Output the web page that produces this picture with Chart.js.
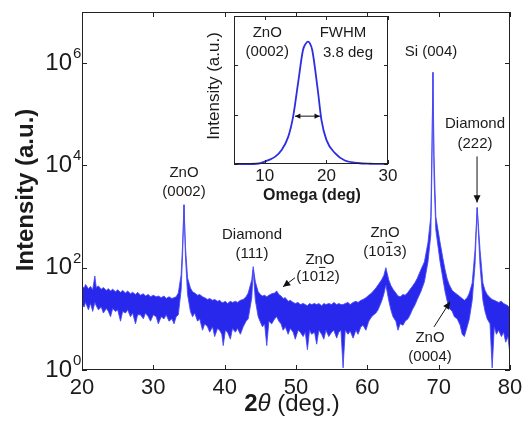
<!DOCTYPE html>
<html><head><meta charset="utf-8">
<script src="https://cdn.jsdelivr.net/npm/chart.js@4"></script>
<style>
html,body{margin:0;padding:0;background:#fff;}
#wrap{position:relative;width:523px;height:422px;}
canvas{position:absolute;left:0;top:0;}
</style>
</head><body>
<div id="wrap"><canvas id="main" width="523" height="422"></canvas><canvas id="inset" width="523" height="422"></canvas></div>
<script>
// ---- main XRD scan (2theta, upper and lower edges of the noisy trace) ----
const twoTheta = [20.0,20.3,20.5,20.9,21.2,21.5,21.8,22.0,22.3,22.7,23.0,23.4,23.7,24.0,24.3,24.7,25.0,25.4,25.7,26.1,26.4,26.8,27.1,27.5,27.8,28.2,28.6,28.9,29.3,29.6,30.0,30.4,30.7,31.1,31.5,31.8,32.2,32.6,32.9,33.2,33.5,33.9,34.1,34.3,34.5,34.8,35.2,35.5,35.8,36.2,36.5,36.9,37.2,37.6,37.9,38.3,38.6,39.0,39.3,39.6,39.8,40.1,40.4,40.8,41.1,41.5,41.8,42.2,42.6,43.0,43.3,43.8,44.0,44.3,44.7,45.0,45.3,45.6,45.9,46.2,46.6,47.0,47.3,47.6,47.9,48.2,48.5,48.9,49.2,49.6,49.9,50.3,50.6,51.0,51.3,51.6,51.9,52.2,52.6,52.9,53.2,53.6,53.9,54.2,54.6,55.0,55.3,55.7,56.0,56.3,56.6,56.9,57.3,57.6,58.0,58.4,58.7,59.1,59.4,59.8,60.2,60.6,60.9,61.2,61.5,62.0,62.3,62.6,63.0,63.3,63.6,64.0,64.3,64.6,65.0,65.3,65.7,66.0,66.3,66.7,67.0,67.5,68.0,68.5,68.9,69.05,69.2,69.35,69.6,70.2,70.6,70.9,71.2,71.5,71.9,72.2,72.6,73.0,73.3,73.6,74.0,74.3,74.7,75.1,75.4,75.8,76.2,76.5,76.8,77.2,77.5,77.8,78.1,78.4,78.8,79.1,79.4,79.7,80.0];
const upperEnv = [44,40,47,39,43,37,69,41,44,38,41,36,39,35,38,34,37,33,36,32,35,31,33,30,33,29,31,28,30,27,29,27,28,26,28,25,27,25,26,27,32,73,280,1700,260,63,40,34,32,29,30,27,26,24,25,23,24,22,23,21,21,22,20,22,21,22,21,23,24,27,32,58,105,53,34,30,28,29,27,29,31,32,35,30,28,25,26,22,23,21,20,21,19,20,19,18,20,19,20,19,20,18,20,19,20,19,21,19,20,19,19,20,21,19,21,22,21,23,24,26,29,32,36,40,46,58,70,100,58,45,38,32,28,27,30,29,33,38,43,52,62,91,130,310,1000,20000,660000,15000,1000,310,150,91,60,46,36,33,30,27,25,23,26,32,50,225,1500,225,50,36,30,26,24,23,22,21,22,20,19,18,16];
const lowerEnv = [19,17,21,15,20,14,21,18,15,17,13,16,14,11,16,14,15,9,14,13,15,11,13,8,12,12,10,13,11,9,12,11,8,11,10,12,9,10,8,11,12,37,180,1700,170,30,14,11,13,9,10,6,8,7,5.5,7,4.5,6.5,6,5,3,6,5.5,4,6.5,5.5,6.5,5,7,9,10,26,90,23,11,8.7,7,8,3,9,8,10,11,9,8,6,7,5,6.5,5.5,4,6,5.5,4.5,5.5,2.5,6,5,5.5,3.2,6,5,4,6,4.5,5.5,6,4.2,5.5,6,1.1,6,5,5.8,4.2,6,5,7,7.5,6,9,11,12,13,15,22,30,46,23,15,11,9,6,8,7.5,9,10,12,15,19,24,34,53,130,440,8000,660000,6000,550,130,60,34,22,16,14,11,10,7.6,5,4.5,7,10,23,115,1500,110,23,14,10,8,1.1,7,5,6,4.5,5.5,3.5,4.5,2];
const mainXTicks = [20,30,40,50,60,70,80];
const mainYExponents = [0,2,4,6];

// ---- inset rocking curve ----
const omega    = [5,7,9,10,11,11.7,12.7,13.8,14.6,15.4,16.2,16.6,17.0,17.3,17.7,18.6,19.2,20.0,21.4,23.0,25.1,27,30];
const omegaInt = [0,0,0.01,0.05,0.1,0.15,0.28,0.55,0.96,1.64,2.31,2.43,2.48,2.45,2.31,1.50,0.89,0.49,0.22,0.07,0.02,0.005,0];
const insetXTicks = [10,20,30];
const insetYTicks = [0,1,2,3];

// ---- annotations (data coordinates; y given as log10) ----
const peakLabels = [
  {t:'ZnO', x:34.3, ly:3.86}, {t:'(0002)', x:34.3, ly:3.49},
  {t:'Diamond', x:43.83, ly:2.647}, {t:'(111)', x:43.83, ly:2.275},
  {t:'ZnO', x:53.37, ly:2.157}, {t:'(1012)', x:53.08, ly:1.824, bar:3},
  {t:'ZnO', x:62.48, ly:2.686}, {t:'(1013)', x:62.48, ly:2.314, bar:3},
  {t:'Si (004)', x:68.93, ly:6.216},
  {t:'Diamond', x:75.09, ly:4.804}, {t:'(222)', x:75.09, ly:4.412},
  {t:'ZnO', x:68.79, ly:0.627}, {t:'(0004)', x:68.79, ly:0.255}
];
const peakArrows = [
  {x1:49.86, l1:1.804, x2:48.18, l2:1.627},
  {x1:75.38, l1:4.176, x2:75.38, l2:3.275},
  {x1:69.35, l1:0.843, x2:71.59, l2:1.333}
];
const insetLabels = [
  {t:'ZnO', x:10.4, y:2.66}, {t:'(0002)', x:10.4, y:2.27},
  {t:'FWHM', x:22.7, y:2.66}, {t:'3.8 deg', x:23.5, y:2.25}
];
const fwhmArrow = {x1:14.9, x2:18.95, y:0.97};

const FONT = '"Liberation Sans", Arial, Helvetica, sans-serif';
const TXT = '#1b1b1b';

function arrow(ctx, x1, y1, x2, y2, head, both) {
  ctx.beginPath(); ctx.moveTo(x1, y1); ctx.lineTo(x2, y2); ctx.stroke();
  const ang = Math.atan2(y2 - y1, x2 - x1);
  const tip = (x, y, a) => {
    ctx.beginPath();
    ctx.moveTo(x, y);
    ctx.lineTo(x - head * Math.cos(a - 0.45), y - head * Math.sin(a - 0.45));
    ctx.lineTo(x - head * Math.cos(a + 0.45), y - head * Math.sin(a + 0.45));
    ctx.closePath(); ctx.fill();
  };
  tip(x2, y2, ang);
  if (both) tip(x1, y1, ang + Math.PI);
}
function barText(ctx, s, idx, cx, cy, size) {
  ctx.textAlign = 'left';
  const w = ctx.measureText(s).width;
  const x0 = cx - w / 2;
  ctx.fillText(s, x0, cy);
  if (idx !== undefined) {
    const pre = ctx.measureText(s.slice(0, idx)).width;
    const cw = ctx.measureText(s[idx]).width;
    ctx.beginPath();
    ctx.lineWidth = 1;
    ctx.moveTo(x0 + pre + 1, cy - size * 0.62);
    ctx.lineTo(x0 + pre + cw - 1, cy - size * 0.62);
    ctx.stroke();
  }
}

const mainDecor = {
  id: 'mainDecor',
  afterDraw(chart) {
    const ctx = chart.ctx, a = chart.chartArea, xs = chart.scales.x, ys = chart.scales.y;
    ctx.save();
    ctx.strokeStyle = '#222'; ctx.lineWidth = 1;
    ctx.strokeRect(a.left + 0.5, a.top + 0.5, a.right - a.left - 1, a.bottom - a.top - 1);
    ctx.beginPath();
    mainXTicks.forEach(v => {
      const px = Math.round(xs.getPixelForValue(v)) + 0.5;
      ctx.moveTo(px, a.bottom); ctx.lineTo(px, a.bottom - 5);
      ctx.moveTo(px, a.top); ctx.lineTo(px, a.top + 5);
    });
    mainYExponents.forEach(e => {
      const py = Math.round(ys.getPixelForValue(Math.pow(10, e))) + 0.5;
      ctx.moveTo(a.left, py); ctx.lineTo(a.left + 5, py);
      ctx.moveTo(a.right, py); ctx.lineTo(a.right - 5, py);
    });
    ctx.stroke();
    ctx.fillStyle = TXT;
    // x tick labels
    ctx.font = '22px ' + FONT; ctx.textAlign = 'center'; ctx.textBaseline = 'middle';
    mainXTicks.forEach(v => ctx.fillText(String(v), xs.getPixelForValue(v), a.bottom + 18));
    // y tick labels 10^n
    mainYExponents.forEach(e => {
      const py = ys.getPixelForValue(Math.pow(10, e));
      ctx.font = '24px ' + FONT; ctx.textAlign = 'right'; ctx.textBaseline = 'middle';
      ctx.fillText('10', a.left - 10, py);
      ctx.font = '15px ' + FONT; ctx.textAlign = 'left'; ctx.textBaseline = 'alphabetic';
      ctx.fillText(String(e), a.left - 9, py - 5);
    });
    // y title
    ctx.save();
    ctx.translate(26, 190); ctx.rotate(-Math.PI / 2);
    ctx.font = 'bold 24px ' + FONT; ctx.textAlign = 'center'; ctx.textBaseline = 'middle';
    ctx.fillText('Intensity (a.u.)', 0, 0);
    ctx.restore();
    // x title: bold 2, italic theta, regular rest
    ctx.textBaseline = 'middle'; ctx.textAlign = 'left';
    const parts = [['2', 'bold 24px '], ['\u03B8', 'italic 24px '], [' (deg.)', '24px ']];
    let tw = 0;
    parts.forEach(p => { ctx.font = p[1] + FONT; tw += ctx.measureText(p[0]).width; });
    let cx = 292 - tw / 2;
    parts.forEach(p => { ctx.font = p[1] + FONT; ctx.fillText(p[0], cx, 404); cx += ctx.measureText(p[0]).width; });
    // peak labels
    ctx.font = '15px ' + FONT; ctx.textBaseline = 'middle'; ctx.strokeStyle = TXT;
    peakLabels.forEach(l => barText(ctx, l.t, l.bar, xs.getPixelForValue(l.x), ys.getPixelForValue(Math.pow(10, l.ly)), 15));
    ctx.strokeStyle = '#111'; ctx.fillStyle = '#111'; ctx.lineWidth = 1;
    peakArrows.forEach(r => arrow(ctx, xs.getPixelForValue(r.x1), ys.getPixelForValue(Math.pow(10, r.l1)),
      xs.getPixelForValue(r.x2), ys.getPixelForValue(Math.pow(10, r.l2)), 8, false));
    ctx.restore();
  }
};

const lowerPts = twoTheta.map((x, i) => ({x, y: lowerEnv[i]}));
const upperPts = twoTheta.map((x, i) => ({x, y: upperEnv[i]}));

new Chart(document.getElementById('main'), {
  type: 'line',
  data: { datasets: [
    { data: lowerPts, borderColor: 'rgba(70,70,245,0.85)', borderWidth: 1, pointRadius: 0, tension: 0, fill: false },
    { data: upperPts, borderColor: 'rgba(70,70,245,0.85)', borderWidth: 1, pointRadius: 0, tension: 0, fill: '-1', backgroundColor: 'rgba(10,10,235,0.88)' }
  ]},
  options: {
    responsive: false, animation: false, devicePixelRatio: 1,
    layout: { padding: { left: 0, right: 13, top: 12, bottom: 0 } },
    plugins: { legend: { display: false }, tooltip: { enabled: false } },
    scales: {
      x: { type: 'linear', min: 20, max: 80, ticks: { display: false }, grid: { display: false }, border: { display: false },
           afterFit(s) { s.height = 52; } },
      y: { type: 'logarithmic', min: 1, max: 1e7, ticks: { display: false }, grid: { display: false }, border: { display: false },
           afterFit(s) { s.width = 82; } }
    }
  },
  plugins: [mainDecor]
});

const insetDecor = {
  id: 'insetDecor',
  beforeDraw(chart) {
    const ctx = chart.ctx, a = chart.chartArea;
    ctx.save(); ctx.fillStyle = '#fff'; ctx.fillRect(a.left, a.top, a.right - a.left, a.bottom - a.top); ctx.restore();
  },
  afterDraw(chart) {
    const ctx = chart.ctx, a = chart.chartArea, xs = chart.scales.x, ys = chart.scales.y;
    ctx.save();
    ctx.strokeStyle = '#222'; ctx.lineWidth = 1;
    ctx.strokeRect(a.left + 0.5, a.top + 0.5, a.right - a.left - 1, a.bottom - a.top - 1);
    ctx.beginPath();
    insetXTicks.forEach(v => {
      const px = Math.round(xs.getPixelForValue(v)) + 0.5;
      ctx.moveTo(px, a.bottom); ctx.lineTo(px, a.bottom - 4);
      ctx.moveTo(px, a.top); ctx.lineTo(px, a.top + 4);
    });
    insetYTicks.forEach(v => {
      const py = Math.round(ys.getPixelForValue(v)) + 0.5;
      ctx.moveTo(a.left, py); ctx.lineTo(a.left + 4, py);
      ctx.moveTo(a.right, py); ctx.lineTo(a.right - 4, py);
    });
    ctx.stroke();
    ctx.fillStyle = TXT;
    ctx.font = '17px ' + FONT; ctx.textAlign = 'center'; ctx.textBaseline = 'middle';
    insetXTicks.forEach(v => ctx.fillText(String(v), xs.getPixelForValue(v), a.bottom + 12));
    ctx.font = 'bold 16px ' + FONT;
    ctx.fillText('Omega (deg)', 312, a.bottom + 32);
    ctx.save();
    ctx.translate(a.left - 20, 86); ctx.rotate(-Math.PI / 2);
    ctx.font = '17px ' + FONT; ctx.fillText('Intensity (a.u.)', 0, 0);
    ctx.restore();
    ctx.font = '15px ' + FONT;
    insetLabels.forEach(l => barText(ctx, l.t, undefined, xs.getPixelForValue(l.x), ys.getPixelForValue(l.y), 15));
    ctx.strokeStyle = '#111'; ctx.fillStyle = '#111';
    arrow(ctx, xs.getPixelForValue(fwhmArrow.x1), ys.getPixelForValue(fwhmArrow.y),
      xs.getPixelForValue(fwhmArrow.x2), ys.getPixelForValue(fwhmArrow.y), 6, true);
    ctx.restore();
  }
};

new Chart(document.getElementById('inset'), {
  type: 'line',
  data: { datasets: [
    { data: omega.map((x, i) => ({x, y: omegaInt[i]})), borderColor: 'rgb(45,45,225)', borderWidth: 1.8,
      pointRadius: 0, cubicInterpolationMode: 'monotone', fill: false, clip: 2 }
  ]},
  options: {
    responsive: false, animation: false, devicePixelRatio: 1,
    layout: { padding: { left: 0, right: 135, top: 16, bottom: 0 } },
    plugins: { legend: { display: false }, tooltip: { enabled: false } },
    scales: {
      x: { type: 'linear', min: 5, max: 30, ticks: { display: false }, grid: { display: false }, border: { display: false },
           afterFit(s) { s.height = 258; } },
      y: { type: 'linear', min: 0, max: 3, ticks: { display: false }, grid: { display: false }, border: { display: false },
           afterFit(s) { s.width = 234; } }
    }
  },
  plugins: [insetDecor]
});
</script>
</body></html>
